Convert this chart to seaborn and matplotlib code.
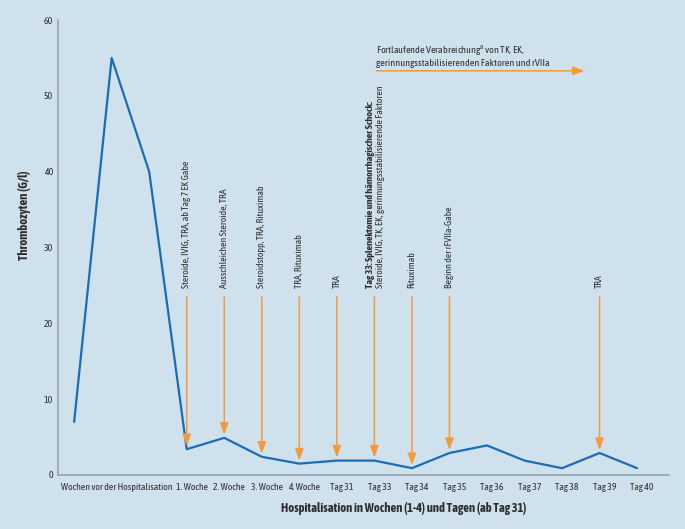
import matplotlib
matplotlib.use('Agg')
import matplotlib.pyplot as plt
import seaborn as sns
import pandas as pd

# Daten
positions = list(range(16))
thrombozyten = [7, 55, 40, 3.4, 4.9, 2.4, 1.5, 1.9, 1.9, 0.9, 2.9, 3.9, 1.9, 0.9, 2.9, 0.9]
tick_pos = [1, 3, 4, 5, 6, 7, 8, 9, 10, 11, 12, 13, 14, 15]
tick_labels = ['Wochen vor der Hospitalisation', '1. Woche', '2. Woche', '3. Woche', '4. Woche',
               'Tag 31', 'Tag 33', 'Tag 34', 'Tag 35', 'Tag 36', 'Tag 37', 'Tag 38', 'Tag 39', 'Tag 40']
arrow_pos = [3, 4, 5, 6, 7, 8, 9, 10, 14]
arrow_labels = ['Steroide, IVIG, TRA, ab Tag 7 EK Gabe', 'Ausschleichen Steroide, TRA',
                'Steroidstopp, TRA, Rituximab', 'TRA, Rituximab', 'TRA',
                'Steroide, IVIG, TK, EK, gerinnungsstabilisierende Faktoren',
                'Rituximab', 'Beginn der rFVIIa-Gabe', 'TRA']
tag33_titel = 'Tag 33: Splenektomie und hämorrhagischer Schock:'
dauer_text = 'Fortlaufende Verabreichung$^{\\mathrm{a}}$ von TK, EK,\ngerinnungsstabilisierenden Faktoren und rVIIa'
dauer_start, dauer_ende, dauer_y = 8.05, 13.6, 53.3

df = pd.DataFrame({'pos': positions, 'wert': thrombozyten})

bg = '#cfe1ed'
blau = '#1a6db5'
orange = '#f39a3a'
grau = '#9aa4ad'
text_c = '#2e2e2e'

sns.set_style('white')
plt.rcParams['font.family'] = ['Asap Condensed', 'DejaVu Sans']
plt.rcParams['mathtext.fontset'] = 'custom'
plt.rcParams['mathtext.rm'] = 'Asap Condensed'

fig = plt.figure(figsize=(6.85, 5.29), dpi=100, facecolor=bg)
ax = fig.add_axes([58 / 685, 1 - 475 / 529, (669 - 58) / 685, (475 - 20) / 529])
ax.set_facecolor(bg)

sns.lineplot(data=df, x='pos', y='wert', color=blau, linewidth=1.6, ax=ax)

ax.set_xlim(-0.43, 15.85)
ax.set_ylim(0, 60)
ax.set_yticks(range(0, 61, 10))
# Beschriftungen stehen etwas rechts der Datenpunkte
ax.set_xticks([t + 0.13 for t in tick_pos])
ax.set_xticklabels(tick_labels)
ax.tick_params(axis='both', length=0, labelsize=7.0, colors=text_c)
ax.tick_params(axis='x', pad=6)
ax.tick_params(axis='y', pad=3.5)
for s in ['top', 'right']:
    ax.spines[s].set_visible(False)
for s in ['left', 'bottom']:
    ax.spines[s].set_color(grau)
    ax.spines[s].set_linewidth(1.2)

ax.set_ylabel('Thrombozyten (G/l)', fontsize=9, fontweight='bold', color=text_c)
ax.yaxis.set_label_coords(-0.045, 0.571)
ax.set_xlabel('Hospitalisation in Wochen (1-4) und Tagen (ab Tag 31)', fontsize=9,
              fontweight='bold', color=text_c)
ax.xaxis.set_label_coords(0.566, -0.06)

# Pfeile und Beschriftungen
for p, lab in zip(arrow_pos, arrow_labels):
    ziel = thrombozyten[p] + 0.4
    ax.annotate('', xy=(p, ziel), xytext=(p, 23.5),
                arrowprops=dict(arrowstyle='-|>,head_length=0.7,head_width=0.25',
                                color=orange, lw=1.1, shrinkA=0, shrinkB=0))
    if p == 8:
        ax.text(p - 0.11, 24.7, tag33_titel, rotation=90, ha='center', va='bottom',
                fontsize=7.2, fontweight='bold', color=text_c)
        ax.text(p + 0.16, 24.7, lab, rotation=90, ha='center', va='bottom',
                fontsize=7.0, color=text_c)
    else:
        ax.text(p, 24.7, lab, rotation=90, ha='center', va='bottom',
                fontsize=7.0, color=text_c)

ax.annotate('', xy=(dauer_ende, dauer_y), xytext=(dauer_start, dauer_y),
            arrowprops=dict(arrowstyle='-|>,head_length=0.7,head_width=0.25',
                            color=orange, lw=1.1, shrinkA=0, shrinkB=0))
ax.text(dauer_start, dauer_y + 0.35, dauer_text, ha='left', va='bottom', fontsize=7.2,
        color=text_c, linespacing=1.15)

fig.savefig('out.png', dpi=100, facecolor=bg)
